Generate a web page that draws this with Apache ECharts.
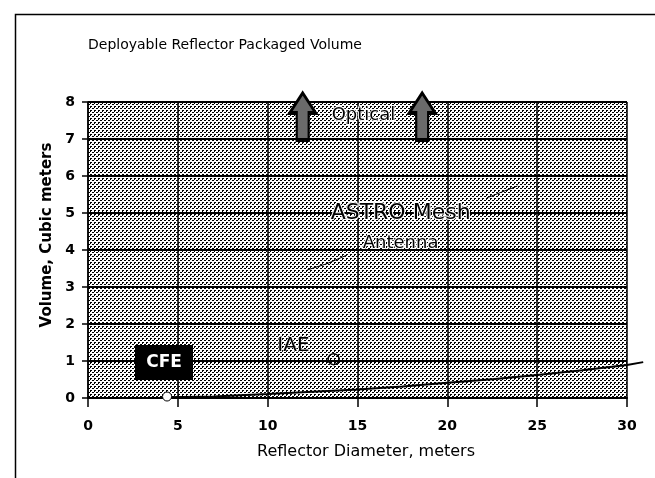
<!DOCTYPE html>
<html>
<head>
<meta charset="utf-8">
<script src="https://cdn.jsdelivr.net/npm/echarts@6/dist/echarts.min.js"></script>
<style>
html,body{margin:0;padding:0;background:#fff;}
#chart{width:655px;height:478px;}
</style>
</head>
<body>
<div id="chart"></div>
<script>
// ---- data ----
var title = 'Deployable Reflector Packaged Volume';
var xName = 'Reflector Diameter, meters';
var yName = 'Volume, Cubic meters';
var xTicks = [0, 5, 10, 15, 20, 25, 30];
var yTicks = [0, 1, 2, 3, 4, 5, 6, 7, 8];
// packaged volume curve (runs slightly past the 30 m edge)
var curveX = [4.4, 7, 10, 12.5, 15, 17.5, 20, 22.5, 25, 27.5, 30, 30.9];
var curveY = [0.02, 0.04, 0.11, 0.17, 0.23, 0.31, 0.41, 0.51, 0.62, 0.75, 0.89, 0.97];
// ASTRO Mesh antenna line (visible pieces)
var astroX = [12.2, 13.3, 14.4, null, 22.2, 23.9];
var astroY = [3.46, 3.63, 3.86, null, 5.41, 5.73];
// point markers
var cfePoint = [4.4, 0.04];
var iaePoint = [13.67, 1.05];
// optical arrows
var arrowX = [11.95, 18.6];
var arrowY = [7.61, 7.61];

function zip(a, b) {
  var out = [];
  for (var i = 0; i < a.length; i++) out.push(a[i] == null ? [null, null] : [a[i], b[i]]);
  return out;
}

// stipple pattern
var pc = document.createElement('canvas');
pc.width = 4; pc.height = 4;
var pctx = pc.getContext('2d');
pctx.fillStyle = '#ffffff'; pctx.fillRect(0, 0, 4, 4);
pctx.fillStyle = '#000000';
[[0,0],[1,0],[2,2],[3,2],[2,3]].forEach(function (p) { pctx.fillRect(p[0], p[1], 1, 1); });
var stipple = { image: pc, repeat: 'repeat' };

var FONT = 'DejaVu Sans';
var chart = echarts.init(document.getElementById('chart'));
var arrowPath = 'path://M13,0 L26,20 L19,20 L19,47 L7,47 L7,20 L0,20 Z';

chart.setOption({
  animation: false,
  backgroundColor: '#ffffff',
  grid: [
    { left: 88, right: 28, top: 102, bottom: 80, show: true, backgroundColor: stipple, borderWidth: 0 },
    // same scale, extended 1 m to the right so the curve can run past the frame
    { left: 88, right: 10, top: 102, bottom: 80, show: false }
  ],
  graphic: [
    { type: 'rect', left: 13, top: 12, shape: { width: 700, height: 500 },
      style: { fill: 'none', stroke: '#000', lineWidth: 1.5 }, silent: true },
    { type: 'text', x: 88, y: 45, style: { text: title, font: '14px "' + FONT + '"', fill: '#000', verticalAlign: 'middle' } },
    { type: 'text', x: 366, y: 452, style: { text: xName, font: '16px "' + FONT + '"', fill: '#000', align: 'center', verticalAlign: 'middle' } },
    { type: 'text', x: 47, y: 235, rotation: Math.PI / 2, style: { text: yName, font: 'bold 15px "' + FONT + '"', fill: '#000', align: 'center', verticalAlign: 'middle' } },
    { type: 'rect', left: 135, top: 345, shape: { width: 58, height: 35 },
      style: { fill: '#000' }, z: 50 },
    { type: 'text', x: 164, y: 363, style: { text: 'CFE', font: 'bold 17px "' + FONT + '"', fill: '#fff', align: 'center', verticalAlign: 'middle' }, z: 51 }
  ],
  xAxis: [{
    type: 'value', gridIndex: 0, min: 0, max: 30, interval: 5,
    axisLine: { show: true, onZero: false, lineStyle: { color: '#000', width: 2 } },
    axisTick: { show: true, inside: false, length: 9, lineStyle: { color: '#000', width: 1.5 } },
    axisLabel: { color: '#000', fontSize: 14, fontWeight: 'bold', fontFamily: FONT, margin: 21,
      formatter: function (v) { return xTicks.indexOf(v) >= 0 ? String(v) : ''; } },
    splitLine: { show: true, lineStyle: { color: '#000', width: 1.5 } }
  }, {
    type: 'value', gridIndex: 1, min: 0, max: 31, show: false, splitLine: { show: false }
  }],
  yAxis: [{
    type: 'value', gridIndex: 0, min: 0, max: 8, interval: 1,
    axisLine: { show: true, onZero: false, lineStyle: { color: '#000', width: 1.5 } },
    axisTick: { show: true, length: 6, lineStyle: { color: '#000', width: 1.5 } },
    axisLabel: { color: '#000', fontSize: 14, fontWeight: 'bold', fontFamily: FONT, margin: 13,
      formatter: function (v) { return yTicks.indexOf(v) >= 0 ? String(v) : ''; } },
    splitLine: { show: true, lineStyle: { color: '#000', width: 2 } }
  }, {
    type: 'value', gridIndex: 1, min: 0, max: 8, show: false, splitLine: { show: false }
  }],
  series: [
    {
      type: 'line', name: 'curve', xAxisIndex: 1, yAxisIndex: 1, data: zip(curveX, curveY), clip: false,
      showSymbol: false, symbol: 'none',
      lineStyle: { color: '#000', width: 2 }, z: 5
    },
    {
      type: 'line', name: 'ASTRO Mesh', data: zip(astroX, astroY), connectNulls: false,
      showSymbol: false, symbol: 'none',
      lineStyle: { color: '#000', width: 1 }, z: 4
    },
    {
      type: 'scatter', name: 'CFE', data: [cfePoint], symbol: 'circle', symbolSize: 9, clip: false,
      itemStyle: { color: '#fff', borderColor: '#000', borderWidth: 1, opacity: 1 }, z: 6
    },
    {
      type: 'scatter', name: 'IAE', data: [iaePoint], symbol: 'circle', symbolSize: 11,
      itemStyle: { color: 'rgba(0,0,0,0)', borderColor: '#000', borderWidth: 1.5, opacity: 1 }, z: 6,
      label: { show: true, position: [-50, -17], formatter: 'IAE',
        fontSize: 20, fontFamily: FONT, color: '#000', textBorderColor: '#fff', textBorderWidth: 1 }
    },
    {
      type: 'scatter', name: 'Optical', data: zip(arrowX, arrowY), symbol: arrowPath,
      symbolSize: [26, 47], clip: false,
      itemStyle: { color: '#6a6a6a', borderColor: '#000', borderWidth: 3, opacity: 1 }, z: 7
    },
    {
      type: 'scatter', name: 'labels', symbolSize: 0, clip: false, z: 8,
      itemStyle: { opacity: 1 },
      data: [
        { value: [15.33, 7.65], label: { formatter: 'Optical', fontSize: 18 } },
        { value: [17.4, 5.0], label: { formatter: 'ASTRO Mesh', fontSize: 22 } },
        { value: [17.4, 4.19], label: { formatter: 'Antenna', fontSize: 18 } }
      ],
      label: { show: true, position: 'inside', color: '#000', fontFamily: FONT,
        textBorderColor: '#fff', textBorderWidth: 2 }
    }
  ]
});
</script>
</body>
</html>
